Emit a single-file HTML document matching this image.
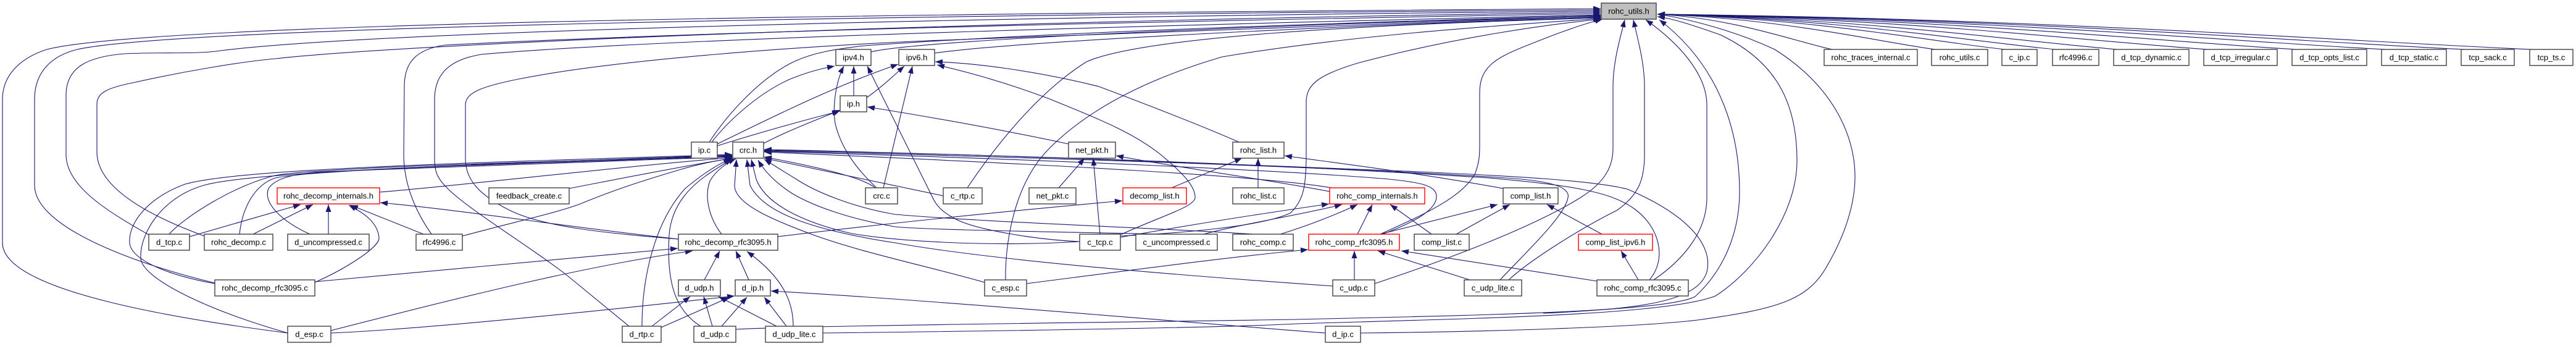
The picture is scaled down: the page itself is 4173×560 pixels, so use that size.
<!DOCTYPE html>
<html><head><meta charset="utf-8"><style>
html,body{margin:0;padding:0;background:#fff;}
svg{display:block;}
text{font-family:"Liberation Sans",Arial,sans-serif;font-size:13px;fill:#000;text-anchor:middle;}
.e path{fill:none;stroke:#191970;stroke-width:1.1;marker-end:url(#a);}
.n rect{fill:#fff;stroke:#404040;stroke-width:1.4;}
.n rect.r{stroke:#ff0000;}
.n rect.g{fill:#bfbfbf;}
</style></head><body>
<svg width="4173" height="560" viewBox="0 0 4173 560" xmlns="http://www.w3.org/2000/svg">
<defs><marker id="a" viewBox="0 0 12 9" refX="12" refY="4.5" markerWidth="12" markerHeight="9" markerUnits="userSpaceOnUse" orient="auto"><path d="M0,0L12,4.5L0,9z" fill="#191970"/></marker></defs>
<g class="e">
<!-- to rohc_utils.h from left -->
<path d="M466,539 C320,520 4,475 4,393 L4,161 C4,118 38,92 76,80 C250,35 1500,22 2593,14"/>
<path d="M348,458 C230,430 56,370 56,300 L56,161 C56,115 85,90 125,80 C300,42 1500,24 2593,16"/>
<path d="M241,380 C170,340 107,300 107,250 L107,154 C107,110 140,92 201,87 C260,84 320,88 357,82 C600,52 1500,28 2593,18"/>
<path d="M331,382 C230,345 157,300 157,246 L157,168 C157,150 175,142 215,134 C300,115 390,100 446,95 C650,72 1500,35 2593,20"/>
<path d="M699,379 C675,345 654,300 654,250 L655,140 C655,100 675,80 720,73 C1200,48 2000,32 2593,22"/>
<path d="M1019,528 L919,446 C860,400 760,340 725,305 C710,290 704,280 704,258 L704,161 C704,118 730,96 780,88 C1100,60 2000,38 2593,24"/>
<path d="M1099,387 C990,378 880,368 825,340 C775,315 754,290 754,257 L754,170 C754,150 780,140 840,128 C1000,96 1300,75 1500,66 C1900,50 2300,36 2593,26"/>
<path d="M1149,230 C1175,190 1230,125 1290,98 C1320,85 1350,80 1400,74 C1700,52 2200,36 2593,25"/>
<path d="M1411,84 C1500,62 2200,35 2593,27"/>
<path d="M1514,86 C1650,66 2250,38 2593,28"/>
<path d="M1567,304 C1610,240 1680,150 1760,100 C1850,60 2200,40 2593,29"/>
<path d="M1629,453 C1628,400 1640,300 1700,240 C1760,180 1850,130 1980,92 C2200,55 2450,40 2593,30"/>
<path d="M1815,382 C1900,378 2040,368 2090,345 C2112,325 2116,300 2116,250 L2116,165 C2116,135 2140,120 2200,102 C2350,62 2500,40 2594,31"/>
<path d="M2236,379 C2300,350 2370,320 2390,280 C2397,260 2397,250 2397,230 L2397,150 C2397,110 2420,95 2470,75 C2520,55 2560,40 2596,31"/>
<path d="M2227,459 C2330,425 2480,370 2560,320 C2600,295 2613,270 2613,240 L2613,140 C2613,100 2625,60 2632,32"/>
<path d="M2444,453 C2480,420 2560,370 2620,340 C2655,315 2664,290 2664,250 L2664,140 C2664,100 2652,60 2646,32"/>
<path d="M2679,453 C2720,425 2765,380 2765,320 L2765,170 C2765,120 2720,70 2666,32"/>
<!-- from bottom via right -->
<path d="M1192,533 C1300,527 1800,522 2100,517 C2400,510 2700,505 2746,480 C2790,440 2818,380 2818,310 C2818,220 2790,110 2688,32"/>
<path d="M1333,539 C1600,536 2000,530 2100,524 C2400,515 2700,510 2779,479 C2840,440 2911,350 2911,260 C2911,170 2880,100 2786,56 C2740,40 2710,30 2685,27"/>
<path d="M2204,539 C2400,537 2650,530 2750,518 C2880,500 2929,486 2960,430 C2995,370 3005,320 3005,286 C3005,220 2970,140 2875,80 C2800,45 2720,28 2685,23"/>
<!-- right row1 nodes -->
<path d="M2968,80 C2911,68 2812,30 2685,23"/>
<path d="M3135,80 C3045,68 2887,30 2685,23"/>
<path d="M3248,80 C3135,68 2938,30 2685,23"/>
<path d="M3330,80 C3201,68 2975,30 2685,23"/>
<path d="M3430,80 C3281,68 3020,30 2685,23"/>
<path d="M3576,80 C3398,68 3085,30 2685,23"/>
<path d="M3719,80 C3512,68 3150,30 2685,23"/>
<path d="M3864,80 C3628,68 3215,30 2685,23"/>
<path d="M3993,80 C3731,68 3273,30 2685,23"/>
<path d="M4102,80 C3818,68 3322,30 2685,23"/>
<!-- to crc.h -->
<path d="M274,379 C300,350 380,300 446,284 C520,270 900,262 1186,252"/>
<path d="M388,379 C392,340 410,300 446,288 C520,273 900,263 1186,253"/>
<path d="M502,379 C460,360 425,330 435,305 C445,290 470,282 520,278 C700,270 950,262 1186,254"/>
<path d="M348,459 C270,445 212,420 210,393 C208,360 240,320 300,298 C380,275 700,265 1186,250"/>
<path d="M466,539 C330,500 230,450 228,418 C226,380 260,320 330,300 C400,280 700,268 1186,251"/>
<path d="M615,311 C750,300 1000,270 1186,255"/>
<path d="M922,305 C1000,290 1100,270 1186,256"/>
<path d="M749,382 C830,360 900,345 940,330 C1000,305 1050,290 1100,275 C1130,266 1160,260 1188,256"/>
<path d="M1169,379 C1150,355 1140,320 1150,293 C1160,275 1180,262 1192,257"/>
<path d="M1040,528 C1040,450 1060,360 1110,305 C1140,280 1165,265 1184,257"/>
<path d="M1135,528 C1090,500 1080,450 1084,380 C1088,330 1120,300 1150,280 C1165,270 1178,262 1186,257"/>
<path d="M1595,457 C1500,430 1400,410 1317,380 C1250,355 1190,330 1190,300 L1193,258"/>
<path d="M1749,391 C1600,400 1450,390 1380,378 C1300,360 1240,330 1225,290 L1217,258"/>
<path d="M1880,379 C1700,375 1500,372 1450,367 C1380,355 1320,335 1283,313 C1260,298 1240,280 1228,259"/>
<path d="M2030,379 C1900,370 1600,360 1450,347 C1380,335 1320,310 1290,290 C1265,275 1250,265 1238,258"/>
<path d="M1528,317 C1450,300 1350,280 1238,256"/>
<path d="M1418,304 C1400,290 1350,275 1238,254"/>
<path d="M2157,304 C2050,285 1700,266 1238,246"/>
<path d="M2240,379 C2290,360 2328,340 2327,317 C2326,300 2300,295 2250,290 C2100,277 1700,258 1238,245"/>
<path d="M2430,453 C2470,410 2535,350 2540,320 C2545,300 2500,292 2440,288 C2200,272 1700,255 1238,244"/>
<path d="M2672,453 C2700,420 2690,370 2649,339 C2610,310 2546,300 2412,288 C2100,268 1700,252 1238,243"/>
<path d="M2500,507 C2650,500 2750,490 2765,440 C2775,400 2740,350 2636,306 C2580,292 2450,285 2300,278 C1900,262 1600,250 1238,242"/>
<path d="M2159,463 C1900,445 1600,420 1450,393 C1300,370 1235,340 1215,300 L1210,258"/>
<!-- ipv4.h -->
<path d="M1153,230 C1180,195 1230,150 1280,128 C1305,118 1325,112 1352,107"/>
<path d="M1383,155 L1383,107"/>
<path d="M1420,304 C1400,285 1365,250 1353,200 C1348,170 1355,130 1367,107"/>
<path d="M1749,391 C1680,388 1580,372 1547,354 C1525,342 1516,332 1510,318 L1405,107"/>
<!-- ipv6.h -->
<path d="M1162,233 C1250,190 1350,140 1455,104"/>
<path d="M1404,158 C1430,140 1450,120 1465,107"/>
<path d="M1431,304 L1478,107"/>
<path d="M2007,230 C1950,205 1860,170 1780,140 C1680,115 1580,102 1515,100"/>
<path d="M1815,380 C1880,350 1935,335 1936,320 C1937,300 1910,275 1880,250 C1830,210 1760,185 1700,160 C1620,130 1560,115 1518,105"/>
<!-- ip.h -->
<path d="M1162,236 C1230,215 1300,195 1360,180"/>
<path d="M1237,232 C1280,210 1320,195 1362,178"/>
<path d="M1731,233 C1600,205 1480,185 1405,173"/>
<!-- net_pkt.h -->
<path d="M1715,304 L1757,256"/>
<path d="M1782,379 L1771,256"/>
<path d="M2154,310 C2050,290 1900,270 1808,252"/>
<!-- rohc_list.h -->
<path d="M1898,304 L2012,256"/>
<path d="M2038,304 L2038,256"/>
<path d="M2440,306 C2300,280 2150,262 2081,252"/>
<!-- decomp_list.h -->
<path d="M1260,383 C1450,360 1650,340 1818,325"/>
<!-- rohc_decomp_internals.h -->
<path d="M307,383 L487,331"/>
<path d="M410,379 L507,331"/>
<path d="M532,379 L532,331"/>
<path d="M686,379 L568,332"/>
<path d="M510,457 C560,435 615,400 614,385 C612,360 590,345 565,332"/>
<path d="M1099,387 C900,365 750,340 616,328"/>
<!-- rohc_decomp_rfc3095.h -->
<path d="M510,456 C700,440 900,420 1098,402"/>
<path d="M536,535 C750,480 950,430 1122,406"/>
<path d="M1141,453 L1166,406"/>
<path d="M1213,453 L1192,406"/>
<path d="M1285,528 C1285,490 1270,450 1210,407"/>
<!-- d_udp.h / d_ip.h -->
<path d="M1056,528 L1118,480"/>
<path d="M1154,528 L1140,480"/>
<path d="M1258,528 L1164,480"/>
<path d="M1071,530 L1182,481"/>
<path d="M1169,528 L1210,481"/>
<path d="M1274,528 L1238,481"/>
<path d="M536,539 C700,532 1000,500 1190,479"/>
<path d="M2147,539 C1900,520 1500,485 1249,471"/>
<!-- rohc_comp_internals.h -->
<path d="M1815,384 C1950,360 2050,345 2153,330"/>
<path d="M1950,379 C2000,365 2120,345 2174,331"/>
<path d="M2074,379 C2120,365 2170,345 2199,331"/>
<path d="M2199,379 L2223,331"/>
<path d="M2319,379 L2252,331"/>
<!-- comp_list.h -->
<path d="M2236,379 L2426,331"/>
<path d="M2359,379 L2446,331"/>
<path d="M2595,379 L2506,331"/>
<!-- rohc_comp_rfc3095.h -->
<path d="M2194,453 L2194,406"/>
<path d="M2381,453 L2232,406"/>
<path d="M2587,455 L2270,406"/>
<path d="M1663,459 C1850,435 2000,415 2119,404"/>
<!-- comp_list_ipv6.h -->
<path d="M2654,453 L2626,406"/>
</g>
<g class="n">
<rect class="g" x="2594" y="5" width="89" height="26"/><text x="2638.5" y="22.5">rohc_utils.h</text>
<rect x="1354" y="80" width="57" height="26"/><text x="1382.5" y="97.5">ipv4.h</text>
<rect x="1456" y="80" width="58" height="26"/><text x="1485" y="97.5">ipv6.h</text>
<rect x="2955" y="80" width="151" height="26"/><text x="3030.5" y="97.5">rohc_traces_internal.c</text>
<rect x="3129" y="80" width="91" height="26"/><text x="3174.5" y="97.5">rohc_utils.c</text>
<rect x="3243" y="80" width="57" height="26"/><text x="3271.5" y="97.5">c_ip.c</text>
<rect x="3325" y="80" width="75" height="26"/><text x="3362.5" y="97.5">rfc4996.c</text>
<rect x="3424" y="80" width="122" height="26"/><text x="3485" y="97.5">d_tcp_dynamic.c</text>
<rect x="3570" y="80" width="119" height="26"/><text x="3629.5" y="97.5">d_tcp_irregular.c</text>
<rect x="3713" y="80" width="121" height="26"/><text x="3773.5" y="97.5">d_tcp_opts_list.c</text>
<rect x="3858" y="80" width="105" height="26"/><text x="3910.5" y="97.5">d_tcp_static.c</text>
<rect x="3987" y="80" width="86" height="26"/><text x="4030" y="97.5">tcp_sack.c</text>
<rect x="4098" y="80" width="70" height="26"/><text x="4133" y="97.5">tcp_ts.c</text>
<rect x="1361" y="155" width="43" height="26"/><text x="1382.5" y="172.5">ip.h</text>
<rect x="1120" y="230" width="42" height="26"/><text x="1141" y="247.5">ip.c</text>
<rect x="1187" y="230" width="50" height="26"/><text x="1212" y="247.5">crc.h</text>
<rect x="1731" y="230" width="76" height="26"/><text x="1769" y="247.5">net_pkt.h</text>
<rect x="1997" y="230" width="83" height="26"/><text x="2038.5" y="247.5">rohc_list.h</text>
<rect class="r" x="449" y="304" width="166" height="26"/><text x="532" y="321.5">rohc_decomp_internals.h</text>
<rect x="792" y="304" width="130" height="26"/><text x="857" y="321.5">feedback_create.c</text>
<rect x="1402" y="304" width="52" height="26"/><text x="1428" y="321.5">crc.c</text>
<rect x="1528" y="304" width="63" height="26"/><text x="1559.5" y="321.5">c_rtp.c</text>
<rect x="1667" y="304" width="76" height="26"/><text x="1705" y="321.5">net_pkt.c</text>
<rect class="r" x="1819" y="304" width="103" height="26"/><text x="1870.5" y="321.5">decomp_list.h</text>
<rect x="1997" y="304" width="83" height="26"/><text x="2038.5" y="321.5">rohc_list.c</text>
<rect class="r" x="2154" y="304" width="154" height="26"/><text x="2231" y="321.5">rohc_comp_internals.h</text>
<rect x="2435" y="304" width="89" height="26"/><text x="2479.5" y="321.5">comp_list.h</text>
<rect x="241" y="379" width="66" height="26"/><text x="274" y="396.5">d_tcp.c</text>
<rect x="331" y="379" width="111" height="26"/><text x="386.5" y="396.5">rohc_decomp.c</text>
<rect x="466" y="379" width="132" height="26"/><text x="532" y="396.5">d_uncompressed.c</text>
<rect x="674" y="379" width="75" height="26"/><text x="711.5" y="396.5">rfc4996.c</text>
<rect x="1099" y="379" width="161" height="26"/><text x="1179.5" y="396.5">rohc_decomp_rfc3095.h</text>
<rect x="1749" y="379" width="66" height="26"/><text x="1782" y="396.5">c_tcp.c</text>
<rect x="1840" y="379" width="132" height="26"/><text x="1906" y="396.5">c_uncompressed.c</text>
<rect x="1997" y="379" width="98" height="26"/><text x="2046" y="396.5">rohc_comp.c</text>
<rect class="r" x="2120" y="379" width="147" height="26"/><text x="2193.5" y="396.5">rohc_comp_rfc3095.h</text>
<rect x="2291" y="379" width="89" height="26"/><text x="2335.5" y="396.5">comp_list.c</text>
<rect class="r" x="2557" y="379" width="120" height="26"/><text x="2617" y="396.5">comp_list_ipv6.h</text>
<rect x="348" y="453" width="162" height="26"/><text x="429" y="470.5">rohc_decomp_rfc3095.c</text>
<rect x="1099" y="453" width="68" height="26"/><text x="1133" y="470.5">d_udp.h</text>
<rect x="1191" y="453" width="57" height="26"/><text x="1219.5" y="470.5">d_ip.h</text>
<rect x="1595" y="453" width="68" height="26"/><text x="1629" y="470.5">c_esp.c</text>
<rect x="2159" y="453" width="68" height="26"/><text x="2193" y="470.5">c_udp.c</text>
<rect x="2372" y="453" width="93" height="26"/><text x="2418.5" y="470.5">c_udp_lite.c</text>
<rect x="2587" y="453" width="148" height="26"/><text x="2661" y="470.5">rohc_comp_rfc3095.c</text>
<rect x="466" y="528" width="70" height="26"/><text x="501" y="545.5">d_esp.c</text>
<rect x="1008" y="528" width="63" height="26"/><text x="1039.5" y="545.5">d_rtp.c</text>
<rect x="1124" y="528" width="68" height="26"/><text x="1158" y="545.5">d_udp.c</text>
<rect x="1240" y="528" width="93" height="26"/><text x="1286.5" y="545.5">d_udp_lite.c</text>
<rect x="2147" y="528" width="57" height="26"/><text x="2175.5" y="545.5">d_ip.c</text>
</g>
</svg>
</body></html>
